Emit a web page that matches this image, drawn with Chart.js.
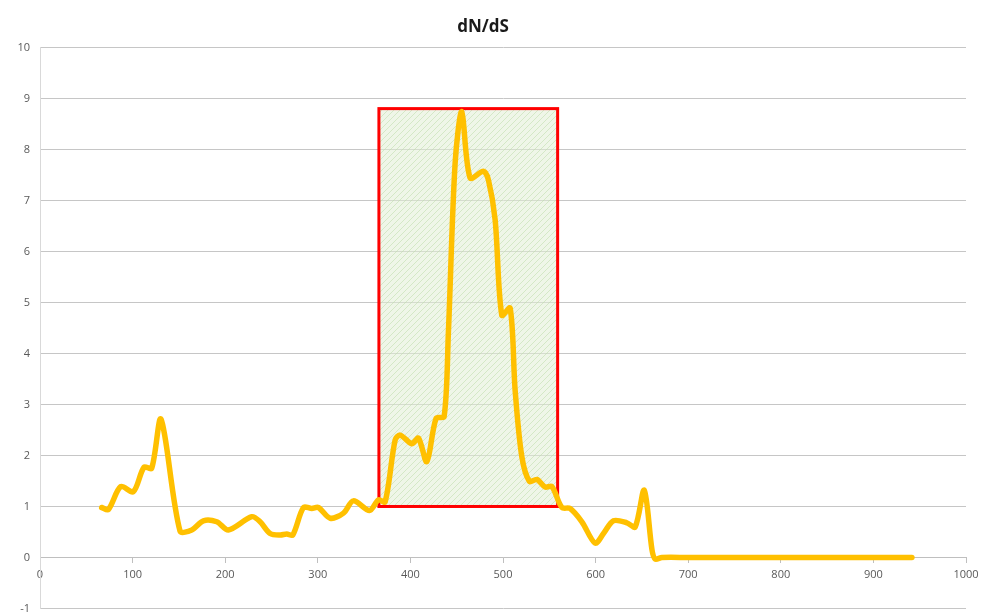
<!DOCTYPE html>
<html>
<head>
<meta charset="utf-8">
<title>dN/dS</title>
<script src="https://cdn.jsdelivr.net/npm/chart.js@4.4.1/dist/chart.umd.min.js"></script>
<style>
  html, body { margin: 0; padding: 0; background: #ffffff; }
  #wrap { width: 987px; height: 616px; position: relative; }
</style>
</head>
<body>
<div id="wrap"><canvas id="chart"></canvas></div>
<script>
// Codon position along the alignment
const positions = [
  66.6, 73.8, 87.2, 100.8, 112.3, 120.6, 130.7, 151.2, 163.9, 176.4,
  190.9, 203.4, 228.7, 237.7, 248.5, 259.3, 266.5, 273.0, 284.5, 293.5,
  300.6, 313.3, 327.7, 338.4, 355.8, 365.5, 372.7, 383.5, 388.9, 401.5,
  408.7, 417.7, 427.8, 436.4, 441.0, 448.3, 455.5, 464.5, 478.9, 484.3,
  491.5, 498.7, 507.7, 513.1, 520.3, 528.6, 536.5, 545.5, 552.8, 563.6,
  572.5, 585.2, 599.5, 608.5, 619.3, 633.8, 642.8, 652.5, 660.9, 664.4,
  671.6, 700, 750, 800, 850, 900, 941.6
];

// dN/dS ratio at each position
const dnds = [
  0.98, 0.94, 1.39, 1.29, 1.77, 1.75, 2.71, 0.52, 0.54, 0.72,
  0.70, 0.54, 0.80, 0.70, 0.47, 0.44, 0.46, 0.44, 0.98, 0.96,
  0.98, 0.77, 0.87, 1.11, 0.92, 1.13, 1.09, 2.30, 2.40, 2.23,
  2.34, 1.88, 2.73, 2.76, 4.40, 7.73, 8.74, 7.44, 7.57, 7.40,
  6.62, 4.75, 4.89, 3.28, 1.98, 1.49, 1.53, 1.38, 1.39, 0.98,
  0.96, 0.70, 0.28, 0.47, 0.72, 0.68, 0.60, 1.32, 0.15, -0.03,
  0.00, 0.00, 0.00, 0.00, 0.00, 0.00, 0.00
];

// Highlighted region under positive selection: [x start, x end], [y low, y high]
const regionX = [366, 559];
const regionY = [1, 8.8];

const xTicks = [0, 100, 200, 300, 400, 500, 600, 700, 800, 900, 1000];
const yTicks = [-1, 0, 1, 2, 3, 4, 5, 6, 7, 8, 9, 10];

const points = positions.map((x, i) => ({ x: x, y: dnds[i] }));

function makeHatch() {
  const c = document.createElement('canvas');
  c.width = 6; c.height = 6;
  const g = c.getContext('2d');
  g.fillStyle = 'rgba(226,239,214,0.55)';
  g.fillRect(0, 0, 6, 6);
  g.strokeStyle = 'rgba(190,220,170,0.55)';
  g.lineWidth = 1;
  g.beginPath();
  g.moveTo(-1, 7); g.lineTo(7, -1);
  g.moveTo(-1, 1); g.lineTo(1, -1);
  g.moveTo(5, 7); g.lineTo(7, 5);
  g.stroke();
  return c;
}

const regionBox = {
  id: 'regionBox',
  beforeDatasetsDraw(chart) {
    const ctx = chart.ctx;
    const xs = chart.scales.x, ys = chart.scales.y;
    const l = xs.getPixelForValue(regionX[0]);
    const r = xs.getPixelForValue(regionX[1]);
    const t = ys.getPixelForValue(regionY[1]);
    const b = ys.getPixelForValue(regionY[0]);
    ctx.save();
    ctx.fillStyle = ctx.createPattern(makeHatch(), 'repeat');
    ctx.fillRect(l, t, r - l, b - t);
    ctx.strokeStyle = '#ff0000';
    ctx.lineWidth = 3;
    ctx.strokeRect(l, t, r - l, b - t);
    ctx.restore();
  }
};

Chart.defaults.font.family = '"Open Sans", "Liberation Sans", sans-serif';
Chart.defaults.color = '#595959';

new Chart(document.getElementById('chart'), {
  type: 'line',
  data: {
    datasets: [{
      label: 'dN/dS',
      data: points,
      borderColor: '#ffc000',
      borderWidth: 5.5,
      borderCapStyle: 'round',
      borderJoinStyle: 'round',
      pointRadius: 0,
      tension: 0.3,
      fill: false
    }]
  },
  options: {
    responsive: true,
    maintainAspectRatio: false,
    animation: false,
    layout: { padding: { left: 0, right: 21, top: 0, bottom: 7.5 } },
    plugins: {
      legend: { display: false },
      tooltip: { enabled: false },
      title: {
        display: true,
        text: 'dN/dS',
        color: '#1a1a1a',
        font: { size: 17, weight: 'bold' },
        padding: { top: 17, bottom: 10 }
      }
    },
    scales: {
      x: {
        type: 'linear',
        position: { y: 0 },
        min: 0,
        max: 1000,
        afterBuildTicks(scale) { scale.ticks = xTicks.map(v => ({ value: v })); },
        ticks: { font: { size: 11 }, padding: 6, maxRotation: 0, callback: v => String(v) },
        grid: { drawOnChartArea: false, drawTicks: true, tickLength: 5, color: '#bfbfbf' },
        border: { display: true, color: '#bfbfbf', width: 1 }
      },
      y: {
        min: -1,
        max: 10,
        afterBuildTicks(scale) { scale.ticks = yTicks.map(v => ({ value: v })); },
        afterFit(scale) {
          scale.width = 40;
          scale.paddingTop = 0;
          scale.paddingBottom = 0;
        },
        ticks: { font: { size: 11 }, padding: 10, callback: v => String(v) },
        grid: { color: '#c6c6c6', drawTicks: false },
        border: { display: true, color: '#d9d9d9', width: 1 }
      }
    }
  },
  plugins: [regionBox]
});
</script>
</body>
</html>
